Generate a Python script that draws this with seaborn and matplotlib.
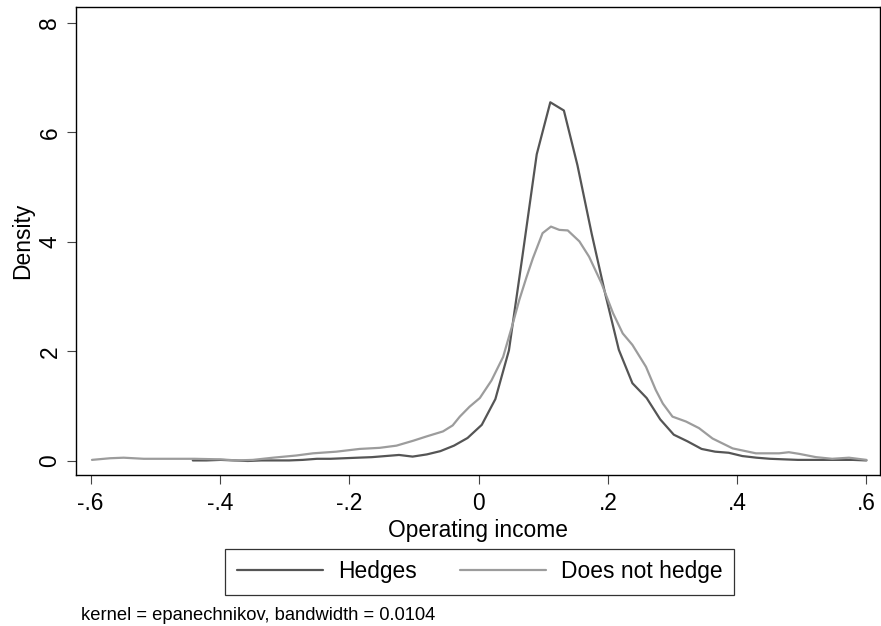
import matplotlib
matplotlib.use("Agg")
import matplotlib.pyplot as plt
import seaborn as sns
import pandas as pd
from matplotlib.lines import Line2D

# ---- data ----
hedges_x = [-0.442, -0.421, -0.399, -0.378, -0.357, -0.336, -0.314, -0.293, -0.272, -0.250,
            -0.229, -0.208, -0.187, -0.165, -0.144, -0.123, -0.102, -0.080, -0.059, -0.038,
            -0.017, 0.005, 0.026, 0.047, 0.068, 0.090, 0.111, 0.132, 0.153, 0.175,
            0.196, 0.217, 0.238, 0.260, 0.281, 0.302, 0.323, 0.345, 0.366, 0.387,
            0.408, 0.430, 0.451, 0.472, 0.494, 0.515, 0.536, 0.557, 0.579, 0.600]
hedges_y = [0.01, 0.01, 0.02, 0.01, 0.00, 0.01, 0.01, 0.01, 0.02, 0.04,
            0.04, 0.05, 0.06, 0.07, 0.09, 0.11, 0.08, 0.12, 0.18, 0.28,
            0.42, 0.66, 1.13, 2.02, 3.75, 5.60, 6.55, 6.40, 5.40, 4.15,
            3.05, 2.03, 1.42, 1.15, 0.76, 0.48, 0.36, 0.22, 0.17, 0.15,
            0.09, 0.06, 0.04, 0.03, 0.02, 0.02, 0.02, 0.02, 0.02, 0.01]

nohedge_x = [-0.598, -0.570, -0.549, -0.518, -0.440, -0.400, -0.374, -0.349, -0.318, -0.282,
             -0.256, -0.220, -0.184, -0.153, -0.127, -0.101, -0.080, -0.055, -0.040, -0.029,
             -0.014, 0.002, 0.020, 0.038, 0.053, 0.063, 0.074, 0.084, 0.099, 0.112,
             0.125, 0.138, 0.156, 0.171, 0.190, 0.208, 0.223, 0.238, 0.259, 0.274,
             0.285, 0.300, 0.321, 0.341, 0.362, 0.393, 0.429, 0.465, 0.480, 0.496,
             0.522, 0.547, 0.573, 0.600]
nohedge_y = [0.02, 0.05, 0.06, 0.04, 0.04, 0.03, 0.01, 0.02, 0.06, 0.10,
             0.14, 0.17, 0.22, 0.24, 0.28, 0.37, 0.45, 0.54, 0.65, 0.81,
             0.99, 1.15, 1.47, 1.90, 2.51, 2.94, 3.35, 3.70, 4.16, 4.28,
             4.22, 4.21, 4.01, 3.73, 3.25, 2.70, 2.33, 2.12, 1.72, 1.30,
             1.05, 0.81, 0.72, 0.60, 0.41, 0.23, 0.14, 0.14, 0.16, 0.13,
             0.07, 0.04, 0.06, 0.02]

series_names = ["Hedges", "Does not hedge"]
x_ticks = [-0.6, -0.4, -0.2, 0, 0.2, 0.4, 0.6]
x_tick_labels = ["-.6", "-.4", "-.2", "0", ".2", ".4", ".6"]
y_ticks = [0, 2, 4, 6, 8]
y_tick_labels = ["0", "2", "4", "6", "8"]
footnote = "kernel = epanechnikov, bandwidth = 0.0104"

df = pd.concat([
    pd.DataFrame({"x": hedges_x, "y": hedges_y, "group": series_names[0]}),
    pd.DataFrame({"x": nohedge_x, "y": nohedge_y, "group": series_names[1]}),
], ignore_index=True)

sns.set_style("white")
plt.rcParams["font.family"] = ["Liberation Sans", "DejaVu Sans"]
plt.rcParams["text.color"] = "black"
plt.rcParams["axes.labelcolor"] = "black"

W, H = 881, 626
fig = plt.figure(figsize=(W / 100, H / 100), dpi=100)
ax = fig.add_axes([76 / W, 1 - 475 / H, (880 - 76) / W, (475 - 7) / H])

colors = {"Hedges": "#555555", "Does not hedge": "#9c9c9c"}
sns.lineplot(data=df, x="x", y="y", hue="group", palette=colors, sort=False,
             estimator=None, linewidth=1.6, ax=ax, legend=False)

ax.set_xlim(-0.6227, 0.621)
ax.set_ylim(-0.256, 8.29)
ax.set_xticks(x_ticks)
ax.set_xticklabels(x_tick_labels)
ax.set_yticks(y_ticks)
ax.set_yticklabels(y_tick_labels)

fs = 16.4
ax.tick_params(axis="both", which="major", direction="out", length=6.5, width=0.8,
               color="#444444", labelcolor="black", labelsize=fs, bottom=True, left=True)
ax.tick_params(axis="x", pad=6)
ax.tick_params(axis="y", pad=4, labelrotation=90)
for lab in ax.get_yticklabels():
    lab.set_va("center")

for s in ax.spines.values():
    s.set_visible(True)
    s.set_color("black")
    s.set_linewidth(1.0)

ax.set_xlabel("Operating income", fontsize=fs, color="black")
ax.xaxis.label.set_va("center")
ax.xaxis.set_label_coords(0.5, (475 - 531) / 468)
ax.set_ylabel("Density", fontsize=fs, color="black")
ax.yaxis.label.set_va("center")
ax.yaxis.set_label_coords((23 - 76) / 804, 0.5)

handles = [Line2D([], [], color=colors[n], lw=1.6) for n in series_names]
leg = fig.legend(handles, series_names, loc="center",
                 bbox_to_anchor=(479.5 / W, 1 - 571.7 / H), ncol=2, fontsize=fs,
                 frameon=True, fancybox=False, shadow=False, framealpha=1,
                 edgecolor="#333333", handlelength=3.8, handletextpad=0.63,
                 columnspacing=1.9, borderpad=0.5, borderaxespad=0)
leg.get_frame().set_linewidth(0.9)
for t in leg.get_texts():
    t.set_color("black")

fig.text(80.7 / W, 1 - 615 / H, footnote, fontsize=13.2, va="center", ha="left",
         color="black")

fig.savefig("out.png", dpi=100, facecolor="white")
